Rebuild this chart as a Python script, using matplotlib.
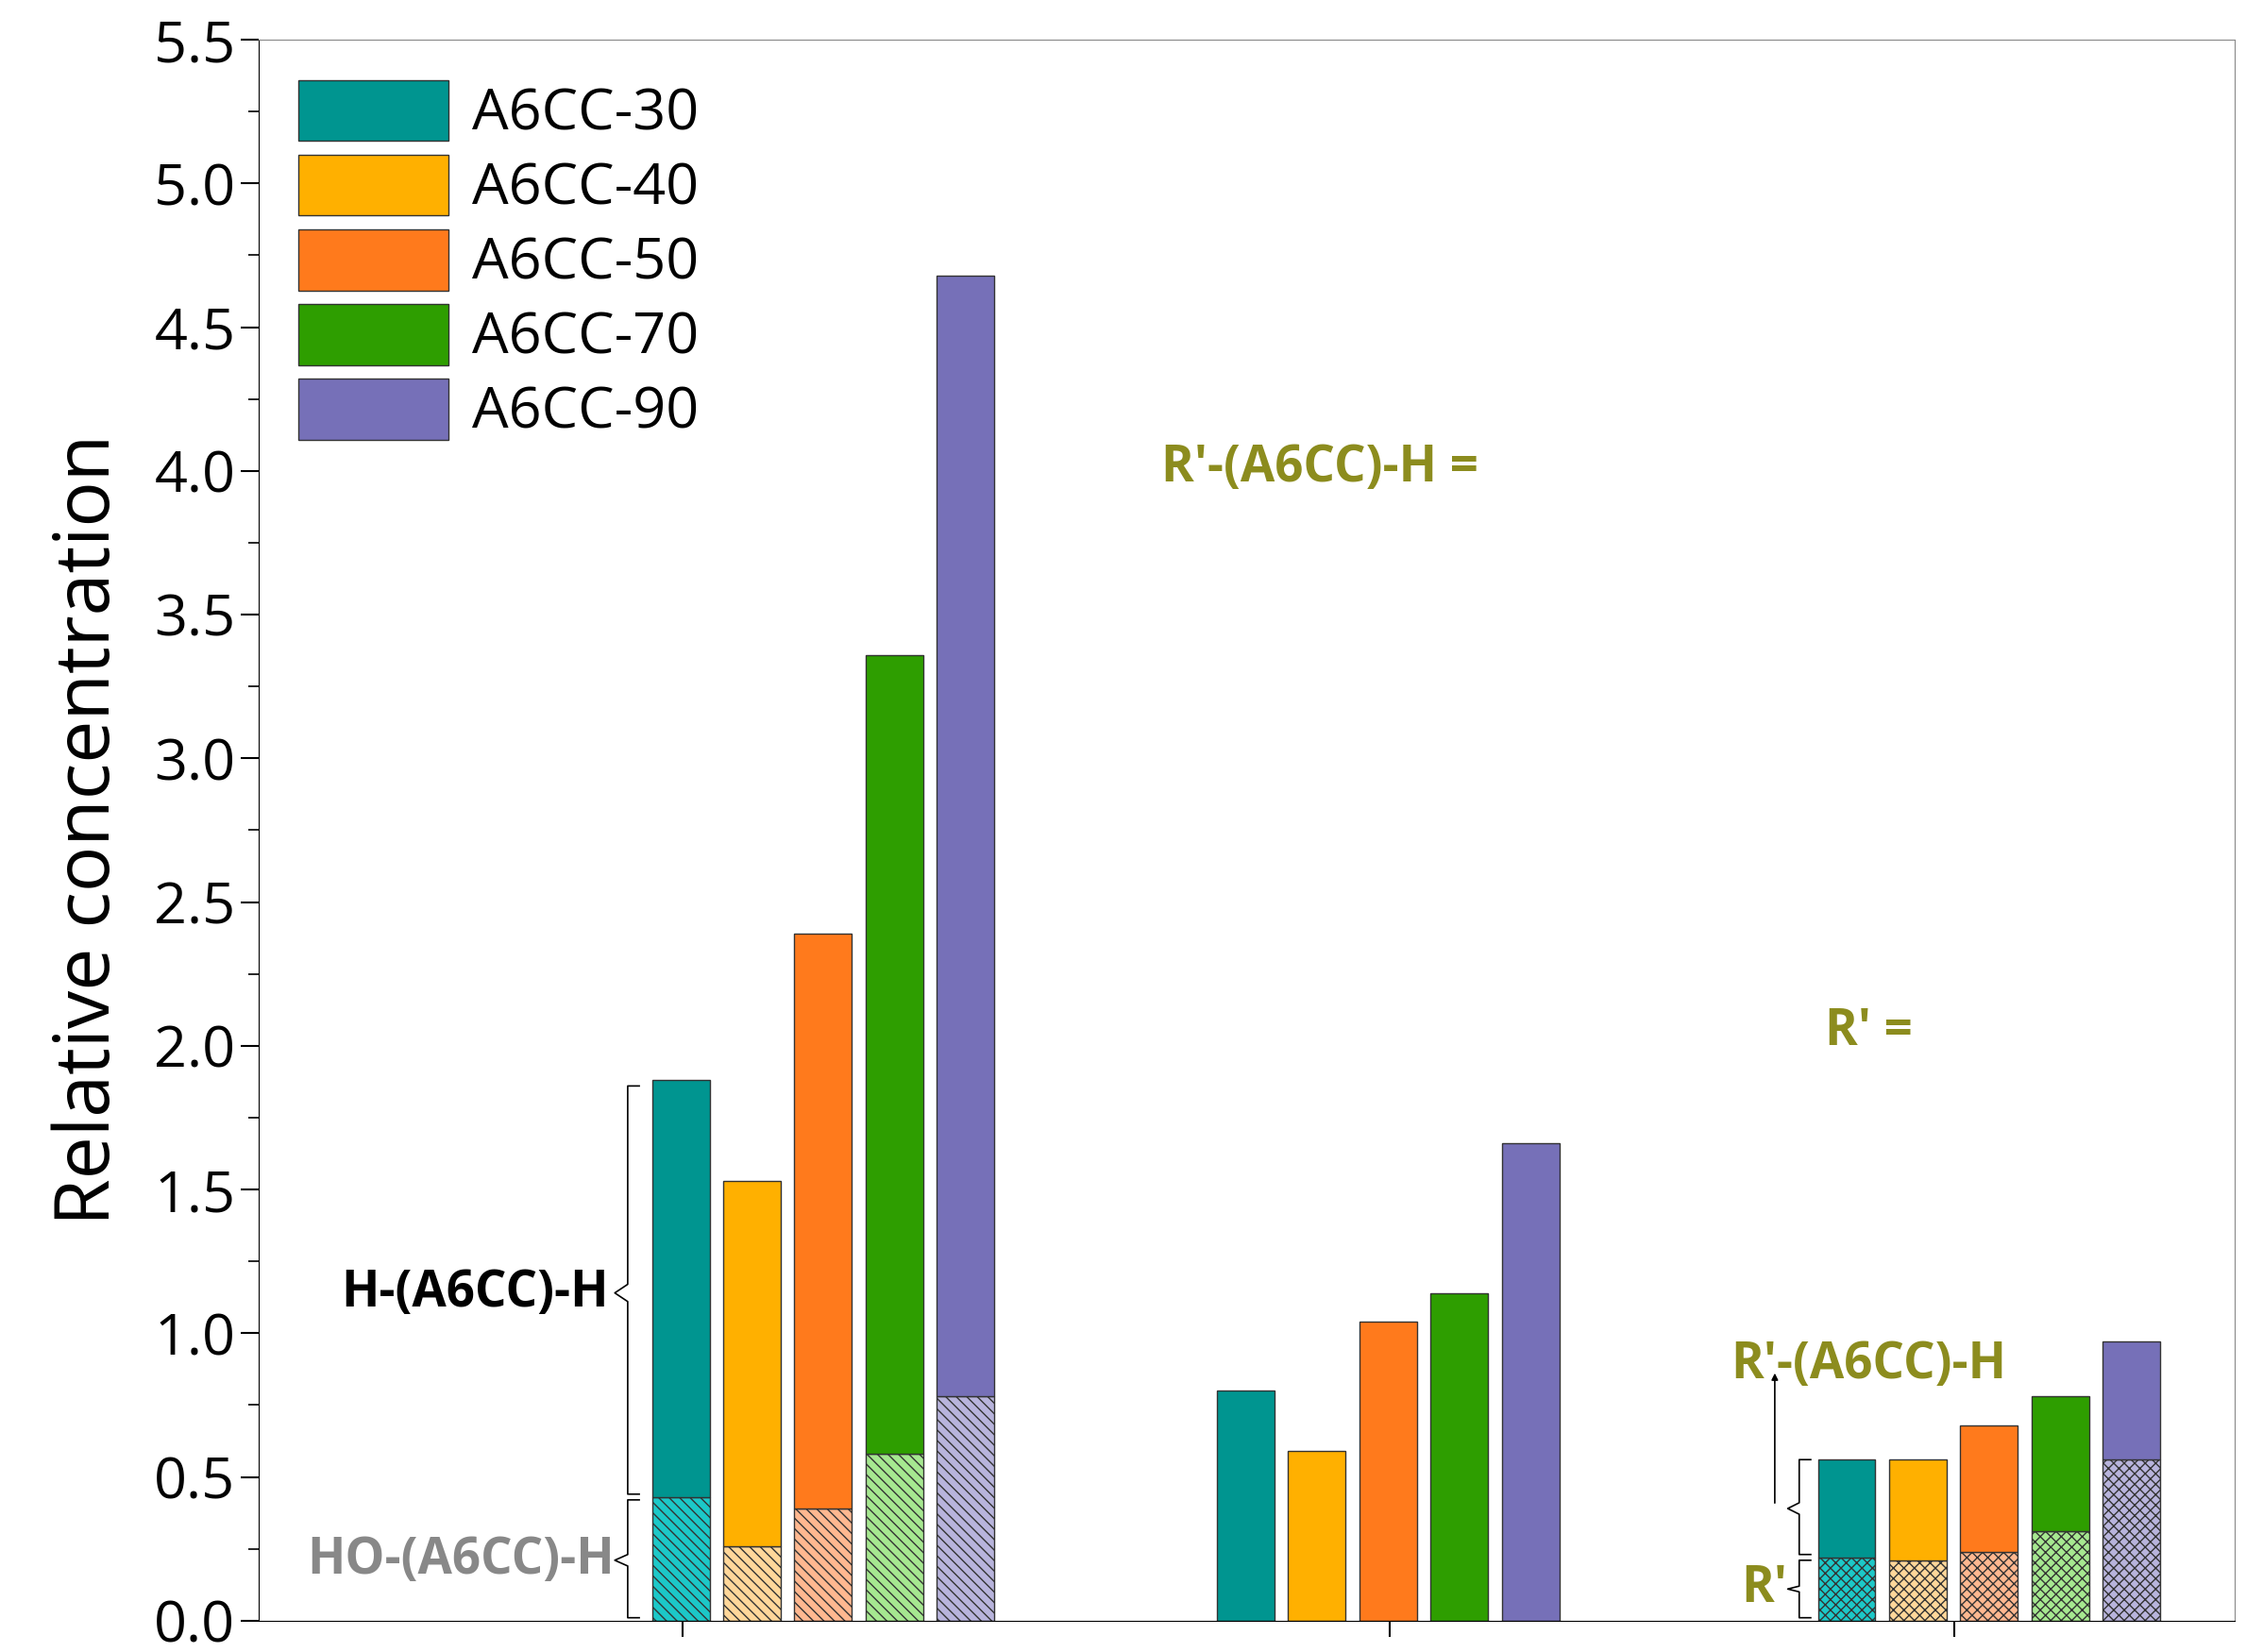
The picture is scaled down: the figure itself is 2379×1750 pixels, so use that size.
import numpy as np
import matplotlib.pyplot as plt
from matplotlib.patches import Patch

plt.rcParams['font.family'] = ['Open Sans', 'DejaVu Sans']

series = ['A6CC-30', 'A6CC-40', 'A6CC-50', 'A6CC-70', 'A6CC-90']
colors = ['#009590', '#FFB000', '#FF7A1C', '#2E9E00', '#7670B8']
light = ['#1CC8C8', '#FFD79A', '#FFB890', '#A6E890', '#B8B4DC']

# group 1: H-(A6CC)-H total and HO-(A6CC)-H part
g1_total = [1.88, 1.53, 2.39, 3.36, 4.68]
g1_low = [0.43, 0.26, 0.39, 0.58, 0.78]
# group 2
g2_total = [0.80, 0.59, 1.04, 1.14, 1.66]
# group 3: R'-(A6CC)-H total and R' part
g3_total = [0.56, 0.56, 0.68, 0.78, 0.97]
g3_low = [0.22, 0.21, 0.24, 0.31, 0.56]

centers = [573, 966, 1384]
step = 49.5
width = 40

fig = plt.figure(figsize=(23.79, 17.5), dpi=100)
ax = fig.add_axes([0.115, 0.019, 0.88, 0.957])

for i in range(5):
    off = (i - 2) * step
    x1 = centers[0] + off
    ax.bar(x1, g1_low[i], width, color=light[i], edgecolor='#333333', hatch='\\\\\\', lw=1)
    ax.bar(x1, g1_total[i] - g1_low[i], width, bottom=g1_low[i], color=colors[i], edgecolor='#333333', lw=1)
    ax.bar(centers[1] + off, g2_total[i], width, color=colors[i], edgecolor='#333333', lw=1)
    x3 = centers[2] + off
    ax.bar(x3, g3_low[i], width, color=light[i], edgecolor='#333333', hatch='xxx', lw=1)
    ax.bar(x3, g3_total[i] - g3_low[i], width, bottom=g3_low[i], color=colors[i], edgecolor='#333333', lw=1)

ax.set_xlim(180, 1555)
ax.set_ylim(0, 5.5)
ax.set_yticks(np.arange(0, 5.51, 0.5))
ax.set_yticks(np.arange(0, 5.51, 0.25), minor=True)
ax.set_yticklabels([f'{v:.1f}' for v in np.arange(0, 5.51, 0.5)])
ax.set_xticks([475, 967, 1360])
ax.set_xticklabels([])
ax.tick_params(axis='y', labelsize=44, length=14, width=1.5)
ax.tick_params(axis='y', which='minor', length=8, width=1.2)
ax.tick_params(axis='x', length=12, width=1.5)
ax.set_ylabel('Relative concentration', fontsize=58, labelpad=20)
for s in ['top', 'right']:
    ax.spines[s].set_color('#888888')

handles = [Patch(facecolor=c, edgecolor='#333333', label=s) for c, s in zip(colors, series)]
ax.legend(handles=handles, loc='upper left', bbox_to_anchor=(0.0, 1.0), frameon=False,
          fontsize=44, handlelength=2.6, handleheight=1.25, labelspacing=0.2, handletextpad=0.4,
          borderaxespad=0.3)

olive = '#8C8C1E'
ax.text(424, 1.14, 'H-(A6CC)-H', fontsize=38, fontweight='bold', ha='right', va='center')
ax.text(428, 0.21, 'HO-(A6CC)-H', fontsize=38, fontweight='bold', ha='right', va='center', color='#888888')
ax.plot([445, 437, 437, 428, 437, 437, 445], [1.86, 1.86, 1.17, 1.14, 1.11, 0.44, 0.44], color='k', lw=1.2)
ax.plot([445, 437, 437, 428, 437, 437, 445], [0.42, 0.42, 0.23, 0.21, 0.19, 0.01, 0.01], color='k', lw=1.2)
ax.text(1300, 0.89, "R'-(A6CC)-H", fontsize=38, fontweight='bold', ha='center', va='center', color=olive)
ax.annotate('', xy=(1235, 0.87), xytext=(1235, 0.40), arrowprops=dict(arrowstyle='-|>', color='k', lw=1.2))
ax.plot([1260, 1252, 1252, 1244, 1252, 1252, 1260], [0.56, 0.56, 0.41, 0.39, 0.37, 0.23, 0.23], color='k', lw=1.2)
ax.text(1244, 0.11, "R'", fontsize=38, fontweight='bold', ha='right', va='center', color=olive)
ax.plot([1260, 1252, 1252, 1244, 1252, 1252, 1260], [0.21, 0.21, 0.12, 0.11, 0.10, 0.01, 0.01], color='k', lw=1.2)
ax.text(808, 4.01, "R'-(A6CC)-H =", fontsize=38, fontweight='bold', ha='left', va='center', color=olive)
ax.text(1270, 2.05, "R' =", fontsize=38, fontweight='bold', ha='left', va='center', color=olive)

fig.savefig('out.png', dpi=100)
